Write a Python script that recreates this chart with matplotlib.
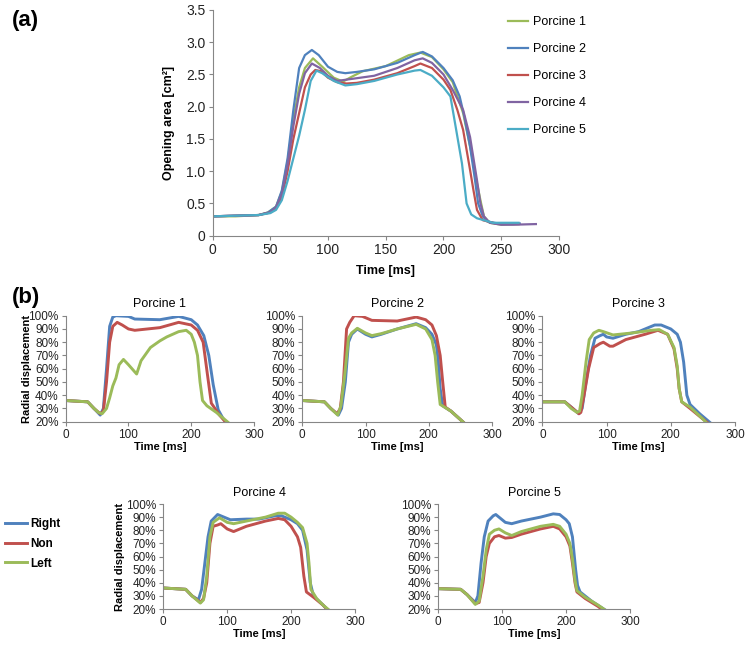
import numpy as np
import matplotlib.pyplot as plt
from matplotlib.ticker import PercentFormatter

plt.rcParams['font.family'] = ['Liberation Sans', 'DejaVu Sans']

# (a) opening area, time [ms] / area [cm2]
p1_t = [0, 20, 40, 48, 55, 60, 65, 70, 75, 80, 87, 95, 105, 113, 120, 130, 150, 170, 180, 190, 200, 208, 217, 224, 228, 232, 235, 240, 250, 265]
p1_a = [0.30, 0.30, 0.32, 0.36, 0.45, 0.68, 1.15, 1.80, 2.30, 2.60, 2.75, 2.62, 2.45, 2.39, 2.46, 2.55, 2.63, 2.80, 2.84, 2.77, 2.58, 2.38, 1.90, 1.30, 0.90, 0.55, 0.30, 0.20, 0.17, 0.18]
p2_t = [0, 40, 48, 55, 60, 65, 70, 75, 80, 86, 92, 100, 108, 115, 125, 140, 160, 175, 182, 190, 200, 208, 214, 218, 223, 227, 230, 234, 238, 250, 266]
p2_a = [0.30, 0.32, 0.36, 0.45, 0.70, 1.20, 1.95, 2.60, 2.80, 2.88, 2.80, 2.62, 2.54, 2.52, 2.54, 2.58, 2.68, 2.80, 2.85, 2.78, 2.60, 2.41, 2.16, 1.85, 1.38, 0.90, 0.50, 0.30, 0.22, 0.18, 0.19]
p3_t = [0, 40, 50, 55, 60, 65, 70, 75, 80, 85, 89, 94, 100, 108, 116, 125, 140, 160, 175, 180, 190, 200, 206, 212, 217, 223, 226, 229, 234, 245, 265]
p3_a = [0.30, 0.32, 0.36, 0.42, 0.60, 1.00, 1.50, 1.90, 2.30, 2.50, 2.57, 2.55, 2.45, 2.38, 2.36, 2.37, 2.42, 2.52, 2.63, 2.67, 2.60, 2.42, 2.26, 1.95, 1.64, 1.02, 0.70, 0.40, 0.24, 0.19, 0.18]
p4_t = [0, 40, 50, 55, 60, 65, 70, 75, 80, 86, 93, 100, 108, 120, 140, 160, 175, 182, 190, 200, 208, 217, 223, 229, 232, 235, 240, 250, 260, 280]
p4_a = [0.30, 0.32, 0.36, 0.44, 0.65, 1.10, 1.70, 2.20, 2.52, 2.67, 2.60, 2.48, 2.40, 2.43, 2.48, 2.60, 2.72, 2.75, 2.68, 2.50, 2.26, 1.95, 1.53, 0.86, 0.50, 0.30, 0.20, 0.17, 0.17, 0.18]
p5_t = [0, 40, 50, 55, 60, 65, 70, 75, 80, 85, 90, 95, 105, 115, 125, 140, 160, 175, 180, 190, 200, 206, 211, 216, 220, 224, 229, 243, 265]
p5_a = [0.30, 0.32, 0.35, 0.40, 0.55, 0.85, 1.20, 1.55, 1.95, 2.40, 2.56, 2.52, 2.40, 2.33, 2.35, 2.40, 2.50, 2.56, 2.57, 2.48, 2.30, 2.16, 1.64, 1.12, 0.50, 0.33, 0.27, 0.20, 0.20]

area_names = ['Porcine 1', 'Porcine 2', 'Porcine 3', 'Porcine 4', 'Porcine 5']
area_colors = ['#9BBB59', '#4F81BD', '#C0504D', '#8064A2', '#4BACC6']

# (b) radial displacement [%], per leaflet
r1_t = [0, 35, 45, 55, 60, 65, 70, 75, 80, 100, 110, 150, 180, 200, 210, 220, 228, 235, 243, 250, 256]
r1_v = [36, 35, 30, 25, 30, 60, 92, 99, 100, 99.5, 97.5, 97, 99.5, 97, 93, 85, 70, 48, 29, 23, 19]
n1_t = [0, 35, 45, 55, 60, 65, 70, 75, 82, 90, 100, 110, 150, 180, 200, 210, 219, 226, 232, 245, 256]
n1_v = [36, 35, 30, 26, 28, 50, 80, 92, 95, 93, 90, 89, 91, 95, 93, 89, 80, 55, 34, 25, 19]
l1_t = [0, 35, 45, 52, 58, 65, 70, 75, 80, 85, 92, 100, 113, 120, 135, 150, 161, 180, 192, 200, 205, 210, 214, 218, 225, 240, 260]
l1_v = [36, 35, 30, 27, 26, 30, 38, 47, 53, 63, 67, 63, 56, 66, 76, 81, 84, 88, 89, 86, 80, 70, 50, 36, 32, 27, 19]

r2_t = [0, 35, 45, 57, 62, 68, 73, 78, 87, 100, 110, 125, 150, 180, 195, 205, 212, 215, 218, 222, 235, 256]
r2_v = [36, 35, 30, 25, 30, 50, 80, 86, 90, 86, 84, 86, 90, 94, 91, 86, 78, 65, 45, 32, 28, 19]
n2_t = [0, 35, 45, 55, 60, 65, 70, 75, 82, 95, 110, 150, 180, 195, 205, 212, 218, 222, 226, 235, 256]
n2_v = [36, 35, 30, 26, 30, 50, 90, 95, 100, 99.5, 96.5, 96, 99, 97, 93, 85, 70, 50, 31, 28, 19]
l2_t = [0, 35, 45, 56, 61, 67, 73, 78, 87, 100, 110, 125, 150, 180, 195, 205, 210, 214, 218, 235, 256]
l2_v = [36, 35, 30, 25, 32, 55, 83, 87, 90.5, 87, 85, 86.5, 90, 93.5, 90, 82, 70, 50, 33, 28, 19]

r3_t = [0, 35, 45, 57, 62, 68, 75, 82, 90, 95, 100, 110, 130, 150, 175, 185, 200, 210, 215, 220, 225, 230, 245, 262]
r3_v = [35, 35, 31, 26, 30, 50, 70, 83, 85, 86, 84, 83, 86, 88, 93, 93, 90, 86, 80, 65, 40, 33, 26, 19]
n3_t = [0, 35, 45, 57, 60, 65, 72, 80, 90, 95, 105, 110, 130, 160, 180, 195, 205, 210, 213, 217, 230, 250, 258]
n3_v = [35, 35, 31, 26, 27, 40, 60, 76, 79, 80, 77, 77, 82, 86, 89, 86, 75, 60, 45, 35, 30, 22, 19]
l3_t = [0, 35, 45, 54, 58, 62, 68, 73, 80, 88, 95, 110, 140, 170, 182, 195, 205, 210, 213, 217, 230, 250, 256]
l3_v = [35, 35, 30, 27, 28, 40, 65, 82, 87, 89, 88, 85.5, 87, 89, 89.5, 86, 76, 62, 45, 35, 31, 22, 19]

r4_t = [0, 35, 45, 55, 60, 65, 70, 75, 85, 95, 105, 130, 150, 175, 185, 200, 210, 218, 225, 230, 235, 250, 258]
r4_v = [36, 35, 30, 27, 35, 55, 75, 87, 92, 90, 88, 88.5, 88.5, 91, 91, 88, 85, 80, 65, 40, 30, 23, 19]
n4_t = [0, 35, 45, 58, 63, 68, 73, 78, 85, 90, 100, 110, 130, 160, 180, 190, 200, 210, 215, 220, 224, 235, 250, 258]
n4_v = [36, 35, 30, 25, 28, 40, 70, 83, 84, 85, 81, 79, 83, 87, 89, 88, 83, 75, 67, 45, 33, 29, 23, 19]
l4_t = [0, 35, 45, 58, 63, 68, 73, 78, 88, 100, 110, 130, 160, 180, 190, 200, 210, 218, 225, 228, 231, 240, 250, 260]
l4_v = [36, 35, 30, 24.5, 27, 45, 75, 86, 89.5, 86, 85, 87, 90, 93, 93, 90, 86, 82, 70, 55, 35, 28, 23, 19]

r5_t = [0, 35, 45, 58, 62, 67, 72, 78, 86, 90, 95, 105, 115, 130, 160, 180, 190, 200, 205, 210, 215, 218, 222, 240, 262]
r5_v = [35.5, 35, 31, 25, 30, 55, 75, 87, 91, 92, 90, 86, 85, 87, 90, 92.5, 92, 88, 85, 75, 50, 38, 33, 26, 19]
n5_t = [0, 35, 45, 58, 64, 70, 75, 80, 88, 95, 105, 115, 130, 160, 180, 190, 200, 206, 210, 214, 217, 230, 250, 258]
n5_v = [35.5, 35, 31, 24, 25, 40, 60, 70, 75, 76, 74, 74.5, 77, 81, 83, 81, 75, 68, 55, 40, 33, 28, 22, 19]
l5_t = [0, 35, 45, 58, 64, 70, 75, 80, 88, 95, 105, 115, 130, 160, 180, 190, 200, 206, 210, 214, 217, 230, 250, 262]
l5_v = [35.5, 35, 31, 23.5, 26, 45, 65, 77, 80, 81, 78, 76, 79, 83, 84.5, 83, 77, 70, 58, 42, 34, 29, 23, 19]

leaflet_names = ['Right', 'Non', 'Left']
leaflet_colors = ['#4F81BD', '#C0504D', '#9BBB59']

axis_gray = '#868686'


def style_axes(ax, size):
    for s in ['top', 'right']:
        ax.spines[s].set_visible(False)
    for s in ['left', 'bottom']:
        ax.spines[s].set_color(axis_gray)
        ax.spines[s].set_linewidth(0.8)
    ax.tick_params(direction='out', length=3, width=0.8, color=axis_gray,
                   labelsize=size, labelcolor='#222222', pad=2)


fig = plt.figure(figsize=(7.47, 6.45), dpi=100)

# ---- panel (a)
ax = fig.add_axes([0.2845, 0.6346, 0.4638, 0.3499])
area_t = [p1_t, p2_t, p3_t, p4_t, p5_t]
area_a = [p1_a, p2_a, p3_a, p4_a, p5_a]
for t, a, name, c in zip(area_t, area_a, area_names, area_colors):
    ax.plot(t, a, color=c, lw=1.6, label=name)
ax.set_xlim(0, 300)
ax.set_ylim(0, 3.5)
ax.set_xticks(np.arange(0, 301, 50))
ax.set_yticks(np.arange(0, 3.51, 0.5))
ax.set_yticklabels(['0'] + ['%.1f' % v for v in np.arange(0.5, 3.51, 0.5)])
style_axes(ax, 10)
ax.set_xlabel('Time [ms]', fontsize=9, fontweight='bold', labelpad=6)
ax.set_ylabel('Opening area [cm²]', fontsize=9, fontweight='bold', labelpad=8)
ax.legend(loc='upper left', bbox_to_anchor=(0.821, 1.022), frameon=False,
          fontsize=9, handlelength=1.6, labelspacing=1.2, handletextpad=0.4)
fig.text(0.016, 0.960, '(a)', fontsize=16, fontweight='bold')
fig.text(0.016, 0.530, '(b)', fontsize=16, fontweight='bold')

# ---- panel (b)
rad_sets = [
    ([r1_t, n1_t, l1_t], [r1_v, n1_v, l1_v]),
    ([r2_t, n2_t, l2_t], [r2_v, n2_v, l2_v]),
    ([r3_t, n3_t, l3_t], [r3_v, n3_v, l3_v]),
    ([r4_t, n4_t, l4_t], [r4_v, n4_v, l4_v]),
    ([r5_t, n5_t, l5_t], [r5_v, n5_v, l5_v]),
]
positions = [
    [0.088, 0.3462, 0.252, 0.1643],
    [0.4047, 0.3462, 0.254, 0.1643],
    [0.726, 0.3462, 0.258, 0.1643],
    [0.2186, 0.0558, 0.2566, 0.1628],
    [0.5867, 0.0558, 0.2566, 0.1628],
]
for i, ((ts, vs), pos) in enumerate(zip(rad_sets, positions)):
    ax = fig.add_axes(pos)
    for t, v, name, c in zip(ts, vs, leaflet_names, leaflet_colors):
        ax.plot(t, v, color=c, lw=2.1, label=name)
    ax.set_xlim(0, 300)
    ax.set_ylim(20, 100)
    ax.set_xticks([0, 100, 200, 300])
    ax.set_yticks(np.arange(20, 101, 10))
    ax.yaxis.set_major_formatter(PercentFormatter(decimals=0))
    style_axes(ax, 8.5)
    ax.set_title('Porcine %d' % (i + 1), fontsize=9, pad=6)
    ax.set_xlabel('Time [ms]', fontsize=8, fontweight='bold', labelpad=1)
    if i in (0, 3):
        ax.set_ylabel('Radial displacement', fontsize=8, fontweight='bold')
        ax.yaxis.set_label_coords(-0.18 if i == 0 else -0.2, 0.5)
    if i == 3:
        handles, labels = ax.get_legend_handles_labels()
        fig.legend(handles, labels, loc='upper left', bbox_to_anchor=(-0.007, 0.213),
                   frameon=False, prop={'size': 8.5, 'weight': 'bold'},
                   handlelength=1.85, handletextpad=0.25, labelspacing=0.65)

fig.savefig('out.png', dpi=100)
